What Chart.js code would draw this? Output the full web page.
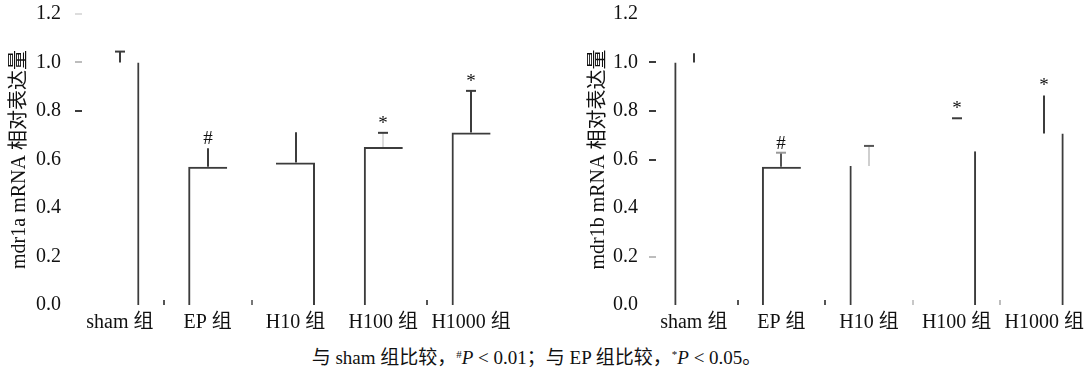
<!DOCTYPE html>
<html>
<head>
<meta charset="utf-8">
<script src="https://cdn.jsdelivr.net/npm/chart.js@4.4.0/dist/chart.umd.min.js"></script>
<style>
  html, body { margin: 0; padding: 0; background: #fff; width: 1088px; height: 380px; overflow: hidden; position: relative; }
  canvas { position: absolute; top: 0; }
  #cA { left: 0; }
  #cB { left: 580px; }
  #note { position: absolute; left: 0; width: 1073px; top: 348px; text-align: center; white-space: nowrap;
          font: 19px 'Liberation Serif', 'Noto Sans CJK SC', serif; line-height: 20px; color: #111; }
  #note sup { font-size: 11px; vertical-align: 6px; line-height: 0; }
</style>
</head>
<body>
<canvas id="cA" width="515" height="337"></canvas>
<canvas id="cB" width="508" height="337"></canvas>
<div id="note">与 sham 组比较，<sup>#</sup><i>P</i> &lt; 0.01；与 EP 组比较，<sup>*</sup><i>P</i> &lt; 0.05。</div>
<script>
// ---- Data ----
var GROUPS  = ['sham 组', 'EP 组', 'H10 组', 'H100 组', 'H1000 组'];
var Y_TICKS = [0, 0.2, 0.4, 0.6, 0.8, 1.0, 1.2];
var SIG     = ['', '#', '', '*', '*'];

var MDR1A_MEAN  = [1.00, 0.570, 0.588, 0.652, 0.711];
var MDR1A_UPPER = [1.045, 0.646, 0.712, 0.710, 0.883];
var MDR1B_MEAN  = [1.00, 0.570, 0.573, 0.634, 0.707];
var MDR1B_UPPER = [1.038, 0.628, 0.656, 0.770, 0.864];

// ---- Look: the source print lost strokes, keep only the ones that survive ----
var INK  = '#3c3c3c';
var FONT = "'Liberation Serif', 'Noto Sans CJK SC', serif";
var LOOK_A = {
  edges: ['r', 'lt', 'tr', 'lt', 'lt'],
  stem:  [INK, INK, INK, '#dcdcdc', INK],
  cap:   [INK, null, null, INK, INK],
  yTick: [null, null, null, null, INK, '#bdbdbd', '#dddddd'],
  xMark: ['#555', '#777', null, '#555']
};
var LOOK_B = {
  edges: ['l', 'lt', 'l', 'r', 'r'],
  stem:  [INK, '#555', '#cfcfcf', null, INK],
  cap:   [null, '#999', '#555', INK, null],
  yTick: [null, '#bdbdbd', null, INK, INK, INK, null],
  xMark: ['#555', '#555', '#c8c8c8', '#bdbdbd']
};

function edgeWidths(code) {
  return {
    left:  code.indexOf('l') >= 0 ? 2 : 0,
    top:   code.indexOf('t') >= 0 ? 2 : 0,
    right: code.indexOf('r') >= 0 ? 2 : 0,
    bottom: 0
  };
}

function line(ctx, x1, y1, x2, y2, c) {
  ctx.strokeStyle = c; ctx.beginPath(); ctx.moveTo(x1, y1); ctx.lineTo(x2, y2); ctx.stroke();
}

// error bars, significance marks, small axis nicks
function makeDecor(mean, upper, look) {
  return {
    id: 'decor',
    afterDatasetsDraw: function (chart) {
      var ctx = chart.ctx, xs = chart.scales.x, ys = chart.scales.y, a = chart.chartArea;
      ctx.save();
      ctx.lineWidth = 2; ctx.lineCap = 'butt';
      ys.ticks.forEach(function (t, i) {
        var c = look.yTick[i]; if (!c) return;
        var py = Math.round(ys.getPixelForValue(t.value));
        line(ctx, a.left - 1, py, a.left + 6, py, c);
      });
      look.xMark.forEach(function (c, i) {
        if (!c) return;
        var px = Math.round((xs.getPixelForValue(i) + xs.getPixelForValue(i + 1)) / 2);
        line(ctx, px, a.bottom - 5, px, a.bottom, c);
      });
      chart.getDatasetMeta(0).data.forEach(function (bar, i) {
        var cx = Math.round(bar.x);
        var y0 = ys.getPixelForValue(mean[i]), y1 = ys.getPixelForValue(upper[i]);
        if (look.stem[i]) line(ctx, cx, y0, cx, y1, look.stem[i]);
        if (look.cap[i]) line(ctx, cx - 5, y1, cx + 5, y1, look.cap[i]);
        if (SIG[i]) {
          ctx.fillStyle = '#111'; ctx.font = '19px ' + FONT;
          ctx.textAlign = 'center'; ctx.textBaseline = 'alphabetic';
          ctx.fillText(SIG[i], cx, y1 - 4);
        }
      });
      ctx.restore();
    }
  };
}

function drawPanel(id, title, mean, upper, look, axisW, labelPad, titlePad) {
  new Chart(document.getElementById(id), {
    type: 'bar',
    data: { labels: GROUPS, datasets: [{
      data: mean,
      backgroundColor: 'rgba(0,0,0,0)',
      borderColor: INK,
      borderSkipped: false,
      inflateAmount: 0,
      borderWidth: function (c) { return edgeWidths(look.edges[c.dataIndex]); },
      barThickness: 39
    }] },
    options: {
      responsive: false, animation: false,
      layout: { padding: { top: 14, right: 0, left: 0, bottom: 0 } },
      plugins: { legend: { display: false }, tooltip: { enabled: false } },
      scales: {
        x: {
          grid: { display: false }, border: { display: false },
          ticks: { color: '#111', font: { family: FONT, size: 20, lineHeight: 1 }, padding: 0, maxRotation: 0, autoSkip: false },
          afterFit: function (s) { s.height = 32; s.paddingLeft = 0; s.paddingRight = 0; }
        },
        y: {
          min: 0, max: 1.2,
          afterBuildTicks: function (s) { s.ticks = Y_TICKS.map(function (v) { return { value: v }; }); },
          grid: { display: false }, border: { display: false },
          ticks: { color: '#111', font: { family: FONT, size: 20 }, padding: labelPad,
                   callback: function (v) { return Number(v).toFixed(1); } },
          title: { display: true, text: title, color: '#111', font: { family: FONT, size: 20 },
                   padding: { top: titlePad, bottom: 0 } },
          afterFit: function (s) { s.width = axisW; s.paddingTop = 0; s.paddingBottom = 0; }
        }
      }
    },
    plugins: [makeDecor(mean, upper, look)]
  });
}

drawPanel('cA', 'mdr1a mRNA 相对表达量', MDR1A_MEAN, MDR1A_UPPER, LOOK_A, 76, 7, 8);
drawPanel('cB', 'mdr1b mRNA 相对表达量', MDR1B_MEAN, MDR1B_UPPER, LOOK_B, 70, 4, 7);
</script>
</body>
</html>
